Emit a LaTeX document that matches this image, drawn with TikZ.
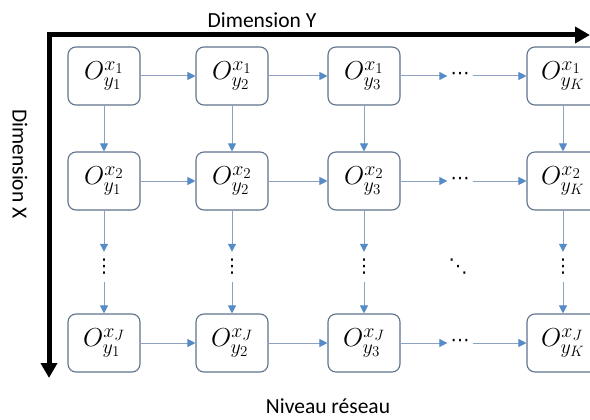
\RequirePackage{fix-cm}
\documentclass[tikz,border=0pt]{standalone}
\usepackage[no-math]{fontspec}
\setmainfont{Carlito}
\newfontfamily\dejavu{DejaVu Sans}
\usetikzlibrary{arrows.meta}
\DeclareMathSizes{26}{26}{20}{15}
\definecolor{boxedge}{RGB}{95,115,140}
\definecolor{linec}{RGB}{140,162,192}
\definecolor{tipc}{RGB}{85,140,200}
\begin{document}
\begin{tikzpicture}[x=1pt,y=-1pt,
  obox/.style={draw=boxedge, line width=1.1pt, rounded corners=8pt, fill=white,
    minimum width=72pt, minimum height=58pt, inner sep=0pt, font=\fontsize{26}{30}\selectfont},
  conn/.style={draw=linec, line width=1pt, -{Triangle[length=8pt,width=8pt,color=tipc]}},
  hdots/.style={inner sep=0pt, minimum width=25pt, font=\dejavu\fontsize{19}{20}\selectfont},
  vdotsn/.style={inner sep=0pt, minimum height=30pt, font=\dejavu\fontsize{19}{20}\selectfont},
  ddotsn/.style={inner sep=0pt, font=\dejavu\fontsize{19}{20}\selectfont},
  axis/.style={line width=5pt, {Triangle[length=15pt,width=16pt]}-{Triangle[length=15pt,width=16pt]}},
  lab/.style={font=\fontsize{21.5}{24}\selectfont}]
\clip (0,0) rectangle (590,420);
% axes
\coordinate (axb) at (49,378);
\coordinate (axc) at (49,35);
\coordinate (axr) at (590,35);
\draw[axis] (axb) -- (axc) -- (axr);
\node[lab] (dy) at (262,20) {Dimension Y};
\node[lab, rotate=-90] (dx) at (20,164) {Dimension X};
\node[lab] (nr) at (328,406) {Niveau réseau};
% boxes
\node[obox] (b11) at (104,76) {$O^{x_1}_{y_1}$};
\node[obox] (b12) at (232,76) {$O^{x_1}_{y_2}$};
\node[obox] (b13) at (364,76) {$O^{x_1}_{y_3}$};
\node[obox] (b14) at (563,76) {$O^{x_1}_{y_K}$};
\node[obox] (b21) at (104,181) {$O^{x_2}_{y_1}$};
\node[obox] (b22) at (232,181) {$O^{x_2}_{y_2}$};
\node[obox] (b23) at (364,181) {$O^{x_2}_{y_3}$};
\node[obox] (b24) at (563,181) {$O^{x_2}_{y_K}$};
\node[obox] (b31) at (104,343) {$O^{x_J}_{y_1}$};
\node[obox] (b32) at (232,343) {$O^{x_J}_{y_2}$};
\node[obox] (b33) at (364,343) {$O^{x_J}_{y_3}$};
\node[obox] (b34) at (563,343) {$O^{x_J}_{y_K}$};
% ellipses
\node[hdots] (h1) at (460,76) {⋯};
\node[hdots] (h2) at (460,181) {⋯};
\node[hdots] (h3) at (460,343) {⋯};
\node[vdotsn] (v1) at (104,267) {⋮};
\node[vdotsn] (v2) at (232,267) {⋮};
\node[vdotsn] (v3) at (364,267) {⋮};
\node[vdotsn] (v4) at (563,267) {⋮};
\node[ddotsn] (dd) at (458,267) {⋱};
% row connectors
\foreach \r in {1,2,3}{
  \draw[conn] (b\r1) -- (b\r2);
  \draw[conn] (b\r2) -- (b\r3);
  \draw[conn] (b\r3) -- (h\r);
  \draw[conn] (h\r) -- (b\r4);
}
% column connectors
\foreach \c in {1,2,3,4}{
  \draw[conn] (b1\c) -- (b2\c);
  \draw[conn] (b2\c) -- (v\c);
  \draw[conn] (v\c) -- (b3\c);
}
\end{tikzpicture}
\end{document}
